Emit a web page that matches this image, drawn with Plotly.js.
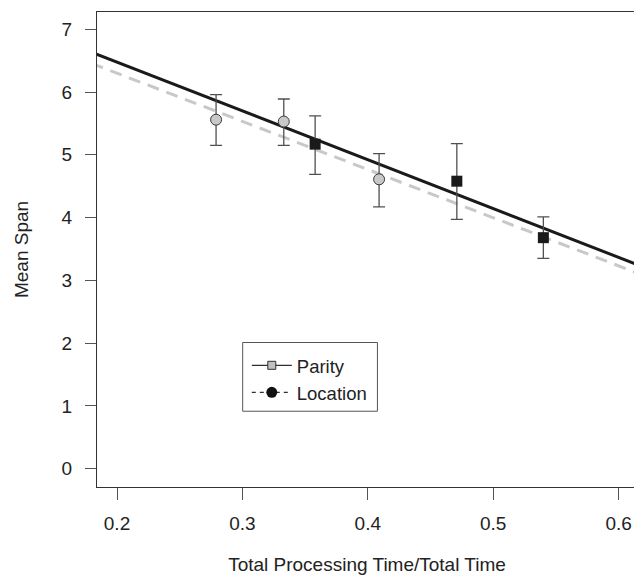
<!DOCTYPE html>
<html>
<head>
<meta charset="utf-8">
<script src="https://cdn.plot.ly/plotly-3.0.1.min.js"></script>
<style>
html, body { margin: 0; padding: 0; overflow: hidden; background: #fff; }
#chart { width: 700px; height: 575px; }
</style>
</head>
<body>
<div id="chart"></div>
<script>
// ---- data ----
const parityX = [0.279, 0.333, 0.409];
const parityY = [5.56, 5.53, 4.61];
const parityUpper = [5.96, 5.89, 5.02];
const parityLower = [5.15, 5.15, 4.17];

const locationX = [0.358, 0.471, 0.540];
const locationY = [5.17, 4.58, 3.68];
const locationUpper = [5.62, 5.18, 4.01];
const locationLower = [4.69, 3.97, 3.35];

// fitted regression lines (end points)
const fitX = [0.15, 0.65];
const parityFitY = [6.867, 2.977];
const locationFitY = [6.685, 2.847];

const xTicks = [0.2, 0.3, 0.4, 0.5, 0.6];
const xTickText = ['0.2', '0.3', '0.4', '0.5', '0.6'];
const yTicks = [0, 1, 2, 3, 4, 5, 6, 7];
const yTickText = ['0', '1', '2', '3', '4', '5', '6', '7'];

const legendNames = ['Parity', 'Location'];

// ---- build ----
const font = 'Liberation Sans, Arial, sans-serif';
const plus = (v, u) => u.map((x, i) => x - v[i]);
const minus = (v, l) => l.map((x, i) => v[i] - x);

const traces = [
  { x: fitX, y: locationFitY, mode: 'lines', showlegend: false, hoverinfo: 'skip',
    line: { color: '#c8c8c8', width: 3, dash: '12px,8px' } },
  { x: fitX, y: parityFitY, mode: 'lines', showlegend: false, hoverinfo: 'skip',
    line: { color: '#1a1a1a', width: 3 } },
  { x: parityX, y: parityY, mode: 'markers', showlegend: false,
    marker: { symbol: 'circle', size: 11, color: '#c8c8c8', line: { color: '#3a3a3a', width: 1 } },
    error_y: { type: 'data', symmetric: false, array: plus(parityY, parityUpper),
      arrayminus: minus(parityY, parityLower), color: '#505050', thickness: 1.3, width: 6 } },
  { x: locationX, y: locationY, mode: 'markers', showlegend: false,
    marker: { symbol: 'square', size: 11, color: '#1a1a1a', line: { color: '#1a1a1a', width: 0 } },
    error_y: { type: 'data', symmetric: false, array: plus(locationY, locationUpper),
      arrayminus: minus(locationY, locationLower), color: '#505050', thickness: 1.3, width: 6 } },
  // legend entries
  { x: [null], y: [null], mode: 'lines+markers', name: legendNames[0],
    line: { color: '#303030', width: 1.2 },
    marker: { symbol: 'square', size: 8, color: '#c0c0c0', line: { color: '#303030', width: 1 } } },
  { x: [null], y: [null], mode: 'lines+markers', name: legendNames[1],
    line: { color: '#303030', width: 1.2, dash: '4px,4px' },
    marker: { symbol: 'circle', size: 11, color: '#111', line: { color: '#111', width: 0 } } }
];

const layout = {
  width: 700, height: 575,
  margin: { l: 97, r: 63, t: 12, b: 88 },
  paper_bgcolor: '#fff', plot_bgcolor: '#fff',
  font: { family: font, size: 19, color: '#222' },
  showlegend: true,
  legend: {
    x: 0.2774, y: 0.2952, xanchor: 'left', yanchor: 'top',
    bgcolor: 'rgba(0,0,0,0)', borderwidth: 0,
    font: { family: font, size: 18.5, color: '#222' },
    itemwidth: 40, tracegroupgap: 0
  },
  xaxis: {
    range: [0.18405, 0.61467],
    tickvals: xTicks, ticktext: xTickText,
    ticks: 'outside', ticklen: 12, tickwidth: 1, tickcolor: '#555',
    ticklabelstandoff: 7,
    showline: true, linecolor: '#333', linewidth: 1, mirror: true,
    showgrid: false, zeroline: false,
    title: { text: 'Total Processing Time/Total Time', font: { family: font, size: 19, color: '#222' }, standoff: 27 }
  },
  yaxis: {
    range: [-0.293, 7.276],
    tickvals: yTicks, ticktext: yTickText,
    ticks: 'outside', ticklen: 11, tickwidth: 1, tickcolor: '#555',
    ticklabelstandoff: 9,
    showline: true, linecolor: '#333', linewidth: 1, mirror: true,
    showgrid: false, zeroline: false,
    title: { text: 'Mean Span', font: { family: font, size: 19, color: '#222' }, standoff: 27 }
  },
  shapes: [
    { type: 'rect', xref: 'paper', yref: 'paper',
      x0: 0.2698, x1: 0.5193, y0: 0.3042, y1: 0.1595,
      line: { color: '#555', width: 1 }, fillcolor: 'rgba(0,0,0,0)' }
  ]
};

Plotly.newPlot('chart', traces, layout, { displayModeBar: false, staticPlot: true });
</script>
</body>
</html>
